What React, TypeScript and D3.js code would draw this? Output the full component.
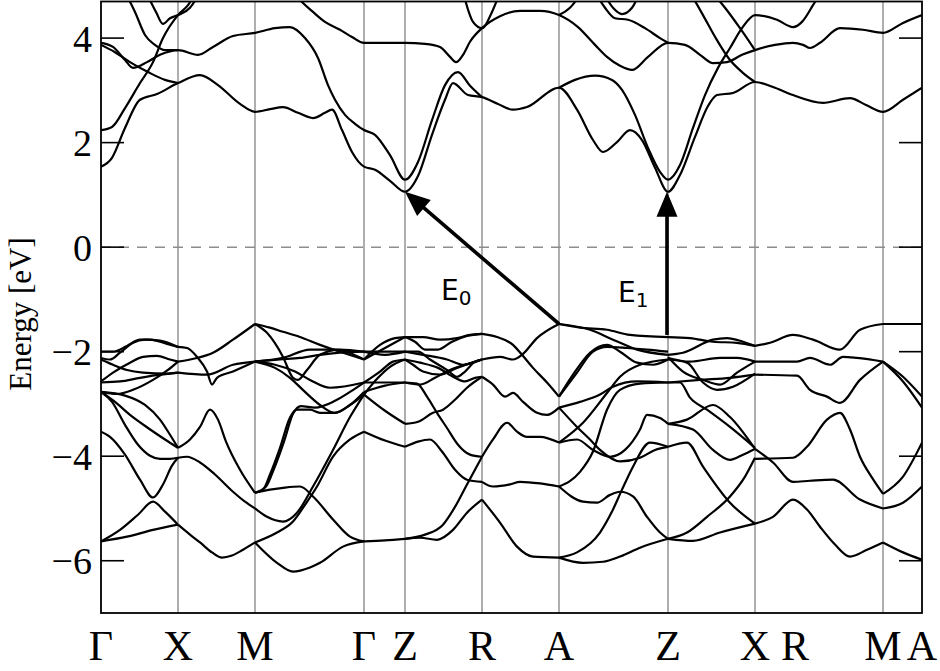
import React from "react";
import * as d3 from "d3";

// High-symmetry points (path distance) and labels
const kGrid = [0.77, 1.54, 2.63, 3.04, 3.81, 4.58, 5.67, 6.54, 7.82];
const kLabelPos = [0, 0.77, 1.54, 2.63, 3.04, 3.81, 4.58, 5.67, 6.54, 6.94, 7.82, 8.21];
const kLabels = ["Γ", "X", "M", "Γ", "Z", "R", "A", "Z", "X", "R", "M", "A"];
const yTicks = [-6, -4, -2, 0, 2, 4];

// Conduction bands [k, E]
const cbA = [[0,1.54],[0.11,1.71],[0.24,2.28],[0.39,2.82],[0.56,2.93],[0.77,3.14],[0.99,3.29],[1.17,3.10],[1.39,2.74],[1.54,2.59],[1.69,2.64],[1.82,2.68],[1.97,2.57],[2.12,2.47],[2.24,2.57],[2.31,2.63],[2.41,2.24],[2.51,1.82],[2.63,1.54],[2.74,1.48],[2.89,1.27],[3.04,1.06],[3.17,1.36],[3.31,2.15],[3.44,2.82],[3.52,3.14],[3.67,2.91],[3.81,2.87],[3.97,2.74],[4.12,2.63],[4.26,2.68],[4.58,3.05],[4.76,2.63],[4.92,2.05],[5.02,1.82],[5.16,2.01],[5.29,2.24],[5.41,2.05],[5.54,1.52],[5.67,1.06],[5.79,1.38],[5.94,2.11],[6.07,2.70],[6.16,2.91],[6.32,2.95],[6.54,3.16],[6.74,3.05],[6.92,2.91],[7.22,2.76],[7.49,2.85],[7.65,2.72],[7.82,2.59],[8.02,2.82],[8.21,3.05]];
const cbC = [[0,3.91],[0.12,3.83],[0.24,3.58],[0.32,3.43],[0.46,3.54],[0.59,3.68],[0.77,3.77],[0.97,3.68],[1.12,3.83],[1.32,4.04],[1.54,4.10],[1.74,4.19],[1.89,4.21],[2.04,4.00],[2.17,3.62],[2.27,3.10],[2.34,2.82],[2.44,2.53],[2.54,2.36],[2.63,2.24],[2.74,2.15],[2.89,1.76],[3.04,1.29],[3.17,1.63],[3.31,2.43],[3.44,3.10],[3.57,3.35],[3.69,3.09],[3.81,2.87]];
const cbD = [[4.58,3.05],[4.74,3.20],[4.94,3.28],[5.11,3.20],[5.21,3.01],[5.34,2.53],[5.47,1.90],[5.59,1.44],[5.67,1.29],[5.79,1.57],[5.92,2.28],[6.04,2.91],[6.17,3.43],[6.29,3.81],[6.41,4.19],[6.54,4.44],[6.76,4.35],[6.92,4.21],[7.01,4.31],[7.12,4.63],[7.21,4.92]];
const cbB = [[0,2.24],[0.11,2.30],[0.24,2.66],[0.39,3.14],[0.52,3.54],[0.62,4.00],[0.77,4.44],[0.87,4.63],[0.97,4.96]];
const cbK = [[0,3.87],[0.14,3.73],[0.29,3.54],[0.47,3.35],[0.64,3.20],[0.77,3.14]];
const cbL = [[0.24,4.88],[0.34,4.50],[0.44,4.06],[0.54,3.87],[0.64,3.77],[0.77,3.77]];
const cbM = [[0.45,4.88],[0.55,4.50],[0.62,4.27],[0.69,4.38],[0.77,4.44],[0.89,4.58],[0.99,4.88]];
const cbN = [[1.92,4.88],[2.02,4.67],[2.12,4.50],[2.24,4.31],[2.39,4.16],[2.51,4.02],[2.63,3.91],[2.84,3.91],[3.04,3.91],[3.24,3.89],[3.39,3.83],[3.49,3.64],[3.55,3.54],[3.62,3.68],[3.69,3.93],[3.81,4.19],[3.99,4.42],[4.19,4.52],[4.39,4.52],[4.58,4.44],[4.77,4.21],[4.94,3.87],[5.06,3.64],[5.19,3.47],[5.31,3.39],[5.47,3.64],[5.67,3.91],[5.84,3.87],[5.99,3.68],[6.12,3.52],[6.26,3.54],[6.41,3.68],[6.54,3.77],[6.74,3.87],[6.92,3.91],[7.02,3.87],[7.09,3.81],[7.19,3.91],[7.39,4.19],[7.62,4.16],[7.82,4.10],[8.02,4.29],[8.21,4.44]];
const cbO = [[3.62,4.88],[3.72,4.31],[3.81,4.19],[3.91,4.50],[3.99,4.88]];
const cbP = [[4.94,4.88],[5.04,4.58],[5.14,4.38],[5.27,4.35],[5.44,4.19],[5.59,4.00],[5.67,3.91]];
const cbQ = [[5.02,4.88],[5.12,4.58],[5.21,4.46],[5.31,4.58],[5.39,4.88]];
const cbR = [[5.89,4.88],[6.02,4.44],[6.16,3.96],[6.29,3.58],[6.41,3.35],[6.54,3.16]];
const cbS = [[6.11,4.88],[6.24,4.58],[6.39,4.19],[6.54,3.77]];
const cbF = [[4.58,4.44],[4.69,4.58],[4.81,4.88]];

// Valence bands, per path segment
const vGX = [
  [[0,-5.63],[0.26,-5.54],[0.52,-5.41],[0.77,-5.31]],
  [[0,-5.63],[0.19,-5.41],[0.37,-5.12],[0.52,-4.87],[0.64,-5.06],[0.77,-5.31]],
  [[0,-3.53],[0.09,-3.63],[0.24,-3.97],[0.39,-4.45],[0.52,-4.79],[0.62,-4.54],[0.71,-4.18],[0.77,-4.03]],
  [[0,-2.77],[0.11,-2.96],[0.24,-3.40],[0.37,-3.78],[0.49,-3.99],[0.59,-4.05],[0.69,-4.05],[0.77,-4.03]],
  [[0,-2.77],[0.14,-2.96],[0.29,-3.21],[0.47,-3.46],[0.64,-3.68],[0.77,-3.84]],
  [[0,-2.77],[0.24,-2.84],[0.44,-3.02],[0.59,-3.30],[0.69,-3.59],[0.77,-3.84]],
  [[0,-2.77],[0.16,-2.81],[0.32,-2.73],[0.52,-2.54],[0.67,-2.35],[0.77,-2.19]],
  [[0,-2.59],[0.19,-2.57],[0.39,-2.50],[0.59,-2.44],[0.77,-2.40]],
  [[0,-2.57],[0.12,-2.40],[0.29,-2.21],[0.42,-2.10],[0.56,-2.08],[0.69,-2.15],[0.77,-2.19]],
  [[0,-2.15],[0.12,-2.25],[0.26,-2.35],[0.42,-2.40],[0.66,-2.42],[0.77,-2.40]],
  [[0,-2.12],[0.09,-2.15],[0.19,-2.02],[0.32,-1.83],[0.44,-1.77],[0.59,-1.79],[0.77,-1.91]],
  [[0,-2.00],[0.12,-2.00],[0.26,-1.89],[0.39,-1.77],[0.49,-1.77],[0.66,-1.85],[0.77,-1.91]],
];
const vXM = [
  [[0.77,-5.31],[0.89,-5.50],[0.99,-5.65],[1.11,-5.84],[1.21,-5.94],[1.31,-5.90],[1.42,-5.79],[1.54,-5.65]],
  [[0.77,-4.03],[0.86,-4.01],[0.99,-4.12],[1.14,-4.35],[1.32,-4.68],[1.44,-4.87],[1.54,-5.00]],
  [[0.77,-3.84],[0.89,-3.68],[0.99,-3.44],[1.09,-3.11],[1.17,-3.30],[1.25,-3.72],[1.39,-4.26],[1.54,-4.70]],
  [[0.77,-1.91],[0.86,-1.93],[0.96,-2.10],[1.06,-2.38],[1.11,-2.63],[1.16,-2.50],[1.32,-2.38],[1.54,-2.19]],
  [[0.77,-2.19],[0.96,-2.12],[1.12,-2.02],[1.32,-1.77],[1.54,-1.47]],
  [[0.77,-2.40],[1.06,-2.44],[1.32,-2.25],[1.54,-2.19]],
];
const vMG = [
  [[1.54,-5.65],[1.76,-5.46],[1.92,-5.25],[2.04,-4.93],[2.16,-4.58],[2.32,-4.01],[2.49,-3.68],[2.63,-3.53]],
  [[1.54,-5.65],[1.76,-6.04],[1.92,-6.21],[2.09,-6.13],[2.19,-6.04],[2.42,-5.73],[2.63,-5.63]],
  [[1.54,-5.00],[1.66,-5.16],[1.82,-5.25],[1.96,-5.08],[2.12,-4.58],[2.32,-3.88],[2.49,-3.25],[2.63,-2.82]],
  [[1.54,-4.70],[1.69,-4.64],[1.84,-4.60],[1.99,-4.58],[2.12,-4.77],[2.32,-5.21],[2.49,-5.54],[2.63,-5.63]],
  [[1.54,-4.70],[1.62,-4.64],[1.69,-4.35],[1.79,-3.84],[1.89,-3.26],[1.96,-3.11],[2.09,-3.11],[2.19,-3.17],[2.34,-3.17],[2.49,-3.02],[2.63,-2.82]],
  [[1.54,-4.70],[1.65,-4.58],[1.73,-4.24],[1.83,-3.72],[1.92,-3.19],[2.00,-3.04],[2.14,-3.07],[2.34,-2.94],[2.49,-2.77],[2.63,-2.59]],
  [[1.54,-1.47],[1.69,-1.54],[1.82,-1.62],[1.99,-1.72],[2.19,-1.87],[2.39,-2.00],[2.63,-2.15]],
  [[1.54,-1.47],[1.66,-1.64],[1.82,-2.10],[1.92,-2.50],[1.97,-2.54],[2.06,-2.35],[2.19,-2.06],[2.39,-1.96],[2.63,-2.00]],
  [[1.54,-2.19],[1.79,-2.15],[1.99,-2.12],[2.19,-2.06],[2.39,-2.02],[2.63,-2.00]],
  [[1.54,-2.19],[1.82,-2.12],[2.09,-1.96],[2.34,-1.96],[2.63,-2.15]],
  [[1.54,-2.19],[1.74,-2.31],[1.89,-2.50],[2.04,-2.77],[2.19,-3.02],[2.34,-3.17],[2.49,-3.02],[2.63,-2.77]],
  [[1.54,-2.19],[1.74,-2.25],[1.94,-2.38],[2.09,-2.54],[2.29,-2.69],[2.63,-2.59]],
];
const vGZ = [
  [[2.63,-5.63],[2.84,-5.61],[3.04,-5.58]],
  [[2.63,-3.53],[2.84,-3.70],[3.04,-3.82]],
  [[2.63,-2.82],[2.84,-3.13],[3.04,-3.38]],
  [[2.63,-2.82],[2.77,-2.50],[2.89,-2.29],[3.04,-2.15]],
  [[2.63,-2.77],[2.84,-2.65],[3.04,-2.59]],
  [[2.63,-2.59],[2.84,-2.59],[3.04,-2.59]],
  [[2.63,-2.59],[2.79,-2.38],[2.92,-2.19],[3.04,-2.15]],
  [[2.63,-2.15],[2.84,-1.93],[3.04,-1.72]],
  [[2.63,-2.15],[2.79,-1.87],[2.94,-1.74],[3.04,-1.72]],
  [[2.63,-2.00],[2.84,-2.00],[3.04,-2.00]],
  [[2.63,-2.00],[2.84,-2.06],[3.04,-2.00]],
];
const vZR = [
  [[3.04,-5.58],[3.19,-5.56],[3.36,-5.60],[3.52,-5.41],[3.66,-5.08],[3.81,-4.83]],
  [[3.04,-5.58],[3.24,-5.50],[3.42,-5.31],[3.54,-4.97],[3.66,-4.54],[3.81,-4.01]],
  [[3.04,-3.82],[3.17,-3.72],[3.29,-3.68],[3.41,-3.91],[3.54,-4.26],[3.66,-4.45],[3.81,-4.49]],
  [[3.04,-3.38],[3.17,-3.34],[3.32,-3.17],[3.42,-3.11],[3.54,-2.92],[3.66,-2.69],[3.81,-2.48]],
  [[3.04,-2.59],[3.16,-2.61],[3.26,-2.86],[3.36,-3.17],[3.46,-3.46],[3.57,-3.78],[3.69,-3.97],[3.81,-4.01]],
  [[3.04,-1.72],[3.22,-1.72],[3.39,-1.77],[3.56,-1.74],[3.69,-1.68],[3.81,-1.66]],
  [[3.04,-1.72],[3.14,-1.81],[3.24,-1.96],[3.37,-1.96],[3.51,-1.81],[3.66,-1.70],[3.81,-1.66]],
  [[3.04,-2.00],[3.22,-2.06],[3.46,-2.15],[3.62,-2.25],[3.81,-2.15]],
  [[3.04,-2.00],[3.17,-2.00],[3.29,-2.15],[3.46,-2.35],[3.56,-2.48],[3.64,-2.38],[3.74,-2.19],[3.81,-2.15]],
  [[3.04,-2.15],[3.12,-2.25],[3.22,-2.38],[3.39,-2.44],[3.56,-2.31],[3.81,-2.15]],
  [[3.04,-2.15],[3.19,-2.21],[3.37,-2.31],[3.54,-2.50],[3.64,-2.57],[3.74,-2.50],[3.81,-2.48]],
  [[3.04,-2.59],[3.19,-2.63],[3.34,-2.50],[3.49,-2.35],[3.64,-2.25],[3.81,-2.15]],
];
const vRA = [
  [[3.81,-4.83],[3.99,-5.27],[4.16,-5.73],[4.32,-5.92],[4.58,-5.94]],
  [[3.81,-4.49],[3.92,-4.58],[4.09,-4.54],[4.19,-4.49],[4.39,-4.52],[4.58,-4.58]],
  [[3.81,-4.01],[3.92,-3.68],[4.06,-3.36],[4.16,-3.53],[4.26,-3.63],[4.39,-3.63],[4.58,-3.74]],
  [[3.81,-2.48],[3.92,-2.63],[4.04,-2.86],[4.12,-2.79],[4.22,-2.96],[4.36,-3.17],[4.46,-3.21],[4.58,-3.07]],
  [[3.81,-1.66],[3.96,-1.72],[4.12,-1.87],[4.21,-2.06],[4.32,-2.31],[4.46,-2.59],[4.58,-2.86]],
  [[3.81,-2.15],[3.99,-2.10],[4.12,-2.15],[4.21,-2.06],[4.36,-1.74],[4.58,-1.47]],
];
const vAZ = [
  [[4.58,-5.94],[4.82,-6.04],[5.02,-6.02],[5.19,-5.92],[5.39,-5.75],[5.67,-5.58]],
  [[4.58,-5.94],[4.76,-5.84],[4.99,-5.46],[5.11,-5.06],[5.21,-4.64],[5.32,-4.20],[5.49,-3.74],[5.67,-3.82]],
  [[4.58,-4.58],[4.82,-4.87],[4.96,-4.89],[5.09,-4.74],[5.19,-4.68],[5.32,-4.77],[5.46,-5.16],[5.59,-5.46],[5.67,-5.58]],
  [[4.58,-4.58],[4.79,-4.30],[4.92,-3.91],[5.06,-3.11],[5.19,-2.73],[5.39,-2.61],[5.67,-2.59]],
  [[4.58,-3.74],[4.76,-3.68],[4.92,-3.88],[5.09,-4.01],[5.24,-3.88],[5.39,-3.49],[5.46,-3.21],[5.59,-3.27],[5.67,-3.38]],
  [[4.58,-3.74],[4.82,-3.36],[5.06,-2.79],[5.19,-2.48],[5.39,-2.25],[5.67,-2.15]],
  [[4.58,-3.07],[4.76,-3.44],[4.89,-3.68],[4.99,-3.88],[5.19,-4.10],[5.39,-4.03],[5.54,-3.88],[5.67,-3.82]],
  [[4.58,-3.07],[4.79,-2.96],[4.99,-2.82],[5.12,-2.67],[5.36,-2.57],[5.67,-2.59]],
  [[4.58,-2.86],[4.72,-2.44],[4.89,-2.02],[5.06,-1.87],[5.19,-2.00],[5.36,-2.21],[5.52,-2.25],[5.67,-2.15]],
  [[4.58,-2.86],[4.76,-2.40],[4.92,-2.00],[5.06,-1.91],[5.26,-1.93],[5.46,-1.96],[5.67,-2.00]],
  [[4.58,-1.47],[4.89,-1.58],[5.12,-1.77],[5.36,-1.96],[5.67,-2.06]],
  [[4.58,-1.47],[4.79,-1.54],[5.06,-1.58],[5.29,-1.68],[5.67,-1.72]],
];
const vZX = [
  [[5.67,-5.58],[5.92,-5.62],[6.19,-5.46],[6.54,-5.29]],
  [[5.67,-5.58],[5.86,-5.46],[6.06,-5.16],[6.29,-4.77],[6.44,-4.39],[6.54,-4.03]],
  [[5.67,-3.82],[5.86,-3.74],[6.02,-4.20],[6.29,-4.89],[6.54,-5.29]],
  [[5.67,-3.38],[5.86,-3.30],[6.12,-3.02],[6.29,-3.25],[6.54,-3.86]],
  [[5.67,-3.38],[5.92,-3.49],[6.12,-3.88],[6.29,-4.07],[6.42,-3.97],[6.54,-3.86]],
  [[5.67,-1.72],[5.89,-1.74],[6.12,-1.81],[6.36,-1.83],[6.54,-1.89]],
  [[5.67,-2.06],[5.82,-2.02],[6.12,-1.77],[6.26,-1.74],[6.42,-1.81],[6.54,-1.89]],
  [[5.67,-2.12],[5.89,-2.19],[6.19,-2.12],[6.36,-2.12],[6.54,-2.19]],
  [[5.67,-2.10],[5.82,-2.38],[6.02,-2.54],[6.19,-2.63],[6.36,-2.40],[6.54,-2.19]],
  [[5.67,-2.15],[5.86,-2.21],[6.02,-2.59],[6.16,-2.73],[6.32,-2.67],[6.54,-2.42]],
  [[5.67,-2.59],[5.99,-2.54],[6.29,-2.50],[6.54,-2.44]],
  [[5.67,-2.59],[5.79,-2.59],[5.89,-2.88],[6.06,-3.11],[6.29,-3.44],[6.54,-3.84]],
];
const vXM2 = [
  [[6.54,-5.29],[6.72,-5.16],[6.92,-4.83],[7.06,-5.02],[7.19,-5.35],[7.34,-5.69],[7.49,-5.92],[7.66,-5.79],[7.82,-5.65]],
  [[6.54,-4.05],[6.92,-4.03],[7.06,-3.82],[7.26,-3.30],[7.39,-3.17],[7.49,-3.49],[7.59,-4.01],[7.71,-4.41],[7.82,-4.72]],
  [[6.54,-3.86],[6.72,-4.12],[6.92,-4.49],[7.09,-4.47],[7.32,-4.45],[7.59,-4.83],[7.82,-5.00]],
  [[6.54,-1.89],[6.69,-1.83],[6.92,-1.68],[7.12,-1.77],[7.39,-1.96],[7.59,-1.58],[7.82,-1.47]],
  [[6.54,-2.19],[6.76,-2.19],[6.96,-2.19],[7.09,-2.12],[7.29,-2.25],[7.42,-2.10],[7.56,-2.12],[7.82,-2.19]],
  [[6.54,-2.44],[6.96,-2.46],[7.09,-2.73],[7.26,-2.86],[7.39,-2.98],[7.59,-2.54],[7.82,-2.19]],
];
const vMA = [
  [[7.82,-1.47],[8.02,-1.47],[8.21,-1.47]],
  [[7.82,-2.19],[8.02,-2.48],[8.21,-2.86]],
  [[7.82,-2.19],[8.02,-2.57],[8.21,-3.07]],
  [[7.82,-4.72],[8.02,-4.39],[8.21,-3.74]],
  [[7.82,-5.00],[8.02,-4.89],[8.21,-4.58]],
  [[7.82,-5.65],[8.02,-5.84],[8.21,-5.98]],
];

// Transitions (arrows): from VB max to CB min
const arrowFrom = [[4.58, -1.47], [5.66, -1.68]];
const arrowTo = [[3.04, 1.06], [5.66, 1.06]];
const arrowSub = ["0", "1"];
const arrowLabelAt = [[3.40, -1.01], [5.17, -1.05]];

export default function App() {
  const x = d3.scaleLinear().domain([0, 8.21]).range([101, 922]);
  const y = d3.scaleLinear().domain([-7, 4.7]).range([613, 1.5]);
  const line = d3
    .line<number[]>()
    .x((d) => x(d[0]))
    .y((d) => y(d[1]))
    .curve(d3.curveMonotoneX);

  const conduction = [cbA, cbC, cbD, cbB, cbK, cbL, cbM, cbN, cbO, cbP, cbQ, cbR, cbS, cbF];
  const valence = [...vGX, ...vXM, ...vMG, ...vGZ, ...vZR, ...vRA, ...vAZ, ...vZX, ...vXM2, ...vMA];
  const bands = [...conduction, ...valence];

  const x0 = x(0), x1 = x(8.21), yTop = y(4.7), yBot = y(-7);
  const tickLen = 23;
  const serif = "'Liberation Serif', 'Times New Roman', serif";

  const arrows = arrowFrom.map((f, i) => {
    const t = arrowTo[i];
    const fx = x(f[0]), fy = y(f[1]), tx = x(t[0]), ty = y(t[1]);
    const dx = tx - fx, dy = ty - fy;
    const len = Math.hypot(dx, dy);
    const ux = dx / len, uy = dy / len;
    const px = -uy, py = ux;
    const hl = 25, hw = 21;
    const bx = tx - ux * hl, by = ty - uy * hl;
    const pts = [
      [tx, ty],
      [bx + (px * hw) / 2, by + (py * hw) / 2],
      [bx - (px * hw) / 2, by - (py * hw) / 2],
    ];
    return { fx, fy, bx: bx + ux * 2, by: by + uy * 2, pts };
  });

  return (
    <svg width={940} height={671} style={{ position: "absolute", left: 0, top: 0, background: "#fff" }}>
      <defs>
        <clipPath id="plotclip">
          <rect x={x0} y={yTop} width={x1 - x0} height={yBot - yTop} />
        </clipPath>
      </defs>
      <rect x={0} y={0} width={940} height={671} fill="#fff" />
      {kGrid.map((k, i) => (
        <line key={"g" + i} x1={x(k)} x2={x(k)} y1={yTop} y2={yBot} stroke="#8c8c8c" strokeWidth={1.4} />
      ))}
      <line x1={x0} x2={x1} y1={y(0)} y2={y(0)} stroke="#8c8c8c" strokeWidth={1.5} strokeDasharray="10,8" />
      <g clipPath="url(#plotclip)">
        {bands.map((b, i) => (
          <path key={"b" + i} d={line(b as number[][]) || ""} fill="none" stroke="#000" strokeWidth={2.2} strokeLinejoin="round" />
        ))}
      </g>
      {arrows.map((a, i) => (
        <g key={"a" + i}>
          <line x1={a.fx} y1={a.fy} x2={a.bx} y2={a.by} stroke="#000" strokeWidth={3.6} />
          <polygon points={a.pts.map((p) => p.join(",")).join(" ")} fill="#000" />
        </g>
      ))}
      {arrowLabelAt.map((p, i) => (
        <text key={"l" + i} x={x(p[0])} y={y(p[1])} fontFamily="'DejaVu Sans', sans-serif" fontSize={28} fill="#000">
          E<tspan fontSize={20} dy={5}>{arrowSub[i]}</tspan>
        </text>
      ))}
      <rect x={x0} y={yTop} width={x1 - x0} height={yBot - yTop} fill="none" stroke="#000" strokeWidth={1.8} />
      {yTicks.map((t, i) => (
        <g key={"t" + i}>
          <line x1={x0} x2={x0 + tickLen} y1={y(t)} y2={y(t)} stroke="#000" strokeWidth={1.6} />
          <line x1={x1 - tickLen} x2={x1} y1={y(t)} y2={y(t)} stroke="#000" strokeWidth={1.6} />
          <text x={x0 - 9} y={y(t) + 13.5} textAnchor="end" fontFamily={serif} fontSize={38} fill="#000">
            {t < 0 ? "\u2212" + Math.abs(t) : String(t)}
          </text>
        </g>
      ))}
      {kLabelPos.map((k, i) => (
        <text key={"k" + i} x={x(k)} y={660} textAnchor="middle" fontFamily={serif} fontSize={42} fill="#000">
          {kLabels[i]}
        </text>
      ))}
      <text transform="translate(31,314) rotate(-90)" textAnchor="middle" fontFamily={serif} fontSize={31} fill="#000">
        Energy [eV]
      </text>
    </svg>
  );
}
